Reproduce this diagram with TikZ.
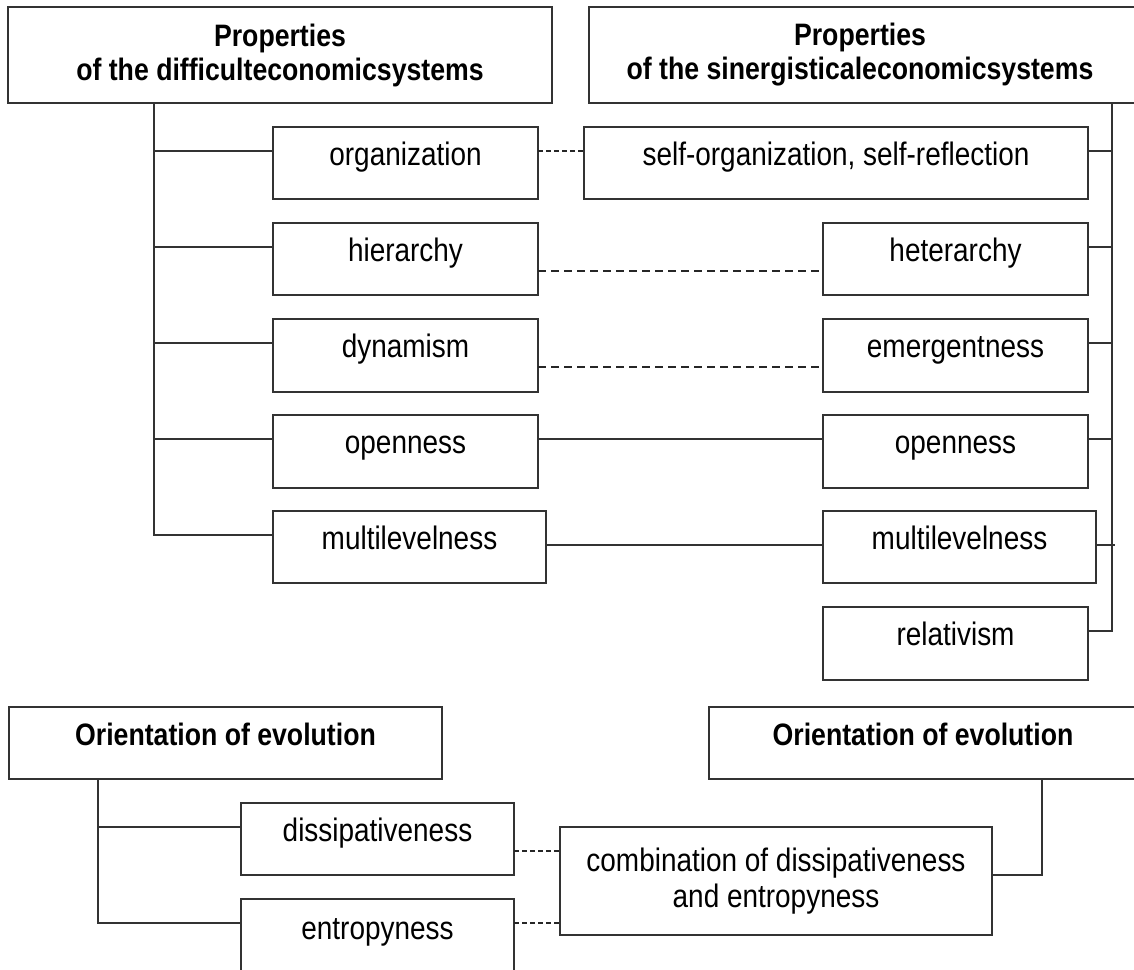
\documentclass[tikz,border=0pt]{standalone}
\usepackage{fontspec}
\setmainfont[FakeStretch=0.86]{Liberation Sans}
\begin{document}
\begin{tikzpicture}[x=1pt,y=-1pt,
  box/.style={draw=black!80,line width=1.3pt,inner sep=0pt,outer sep=0pt,anchor=north west,
    font=\fontsize{32.5}{35}\selectfont,text height=0.72em,text depth=0.3em,align=center},
  hdr/.style={box,font=\fontsize{31}{34}\selectfont\bfseries},
  conn/.style={draw=black!80,line width=1.3pt},
  dthin/.style={draw=black!85,line width=1.1pt,dash pattern=on 5pt off 3pt},
  dthick/.style={draw=black!85,line width=1.7pt,dash pattern=on 8pt off 5pt}]
\clip (0,0) rectangle (1134,969);
\fill[white] (0,0) rectangle (1134,969);
% headers
\node[hdr,minimum width=544pt,minimum height=96pt,text height=,text depth=] (hL) at (8,7) {Properties\\of the difficulteconomicsystems};
\node[hdr,minimum width=560pt,minimum height=96pt,text height=,text depth=] (hR) at (589,7) {\hspace*{-18pt}Properties\\\hspace*{-18pt}of the sinergisticaleconomicsystems};
% left column
\node[box,minimum width=265pt,minimum height=72pt] (org) at (273,127) {organization};
\node[box,minimum width=265pt,minimum height=72pt] (hier) at (273,223) {hierarchy};
\node[box,minimum width=265pt,minimum height=73pt] (dyn) at (273,319) {dynamism};
\node[box,minimum width=265pt,minimum height=73pt] (openL) at (273,415) {openness};
\node[box,minimum width=273pt,minimum height=72pt] (multiL) at (273,511) {multilevelness};
% right column
\node[box,minimum width=504pt,minimum height=72pt] (self) at (584,127) {self-organization, self-reflection};
\node[box,minimum width=265pt,minimum height=72pt] (het) at (823,223) {heterarchy};
\node[box,minimum width=265pt,minimum height=73pt] (emer) at (823,319) {emergentness};
\node[box,minimum width=265pt,minimum height=73pt] (openR) at (823,415) {openness};
\node[box,minimum width=273pt,minimum height=72pt] (multiR) at (823,511) {multilevelness};
\node[box,minimum width=265pt,minimum height=73pt] (rel) at (823,607) {relativism};
% bottom
\node[hdr,minimum width=433pt,minimum height=72pt] (oL) at (9,707) {Orientation of evolution};
\node[hdr,minimum width=440pt,minimum height=72pt] (oR) at (709,707) {\hspace*{-12pt}Orientation of evolution};
\node[box,minimum width=273pt,minimum height=72pt] (diss) at (241,803) {dissipativeness};
\node[box,minimum width=273pt,minimum height=120pt,text height=23pt,text depth=62pt] (ent) at (241,899) {entropyness};
\node[box,minimum width=432pt,minimum height=108pt,text height=,text depth=,font=\fontsize{32.5}{36}\selectfont] (comb) at (560,827) {combination of dissipativeness\\and entropyness};
% trunk coordinates
\coordinate (lt) at (154,0);
\coordinate (rt) at (1112,0);
\coordinate (bt) at (98,0);
\coordinate (bt2) at (1042,0);
% branch points
\foreach \n in {org,hier,dyn,openL,multiL,diss,ent}
  \coordinate (\n-a) at ([yshift=-24pt]\n.north west);
\foreach \n in {self,het,emer,openR,rel}
  \coordinate (\n-a) at ([yshift=-24pt]\n.north east);
\coordinate (multiR-a) at ([yshift=-34pt]multiR.north east);
\coordinate (multiR-b) at ([yshift=-34pt]multiR.north west);
\coordinate (multiL-b) at ([yshift=-34pt]multiL.north east);
\coordinate (org-d) at ([yshift=-24pt]org.north east);
\coordinate (self-d) at ([yshift=-24pt]self.north west);
\coordinate (hier-d) at ([yshift=-48pt]hier.north east);
\coordinate (het-d) at ([yshift=-48pt]het.north west);
\coordinate (dyn-d) at ([yshift=-48pt]dyn.north east);
\coordinate (emer-d) at ([yshift=-48pt]emer.north west);
\coordinate (openL-d) at ([yshift=-24pt]openL.north east);
\coordinate (openR-d) at ([yshift=-24pt]openR.north west);
\coordinate (diss-d) at ([yshift=-48pt]diss.north east);
\coordinate (ent-d) at ([yshift=-24pt]ent.north east);
\coordinate (comb-e) at ([yshift=-48pt]comb.north east);
% left trunk and branches
\draw[conn] (lt |- hL.south) |- (multiL-a);
\foreach \n in {org,hier,dyn,openL}
  \draw[conn] (lt |- \n-a) -- (\n-a);
% right trunk and branches
\draw[conn] (rt |- hR.south) |- (rel-a);
\foreach \n in {self,het,emer,openR}
  \draw[conn] (\n-a) -- (rt |- \n-a);
\draw[conn] (multiR-a) -- ([xshift=3pt]rt |- multiR-a);
% links between columns
\draw[dthin] (org-d) -- (self-d);
\draw[dthick] (hier-d) -- (het-d);
\draw[dthick] (dyn-d) -- (emer-d);
\draw[conn] (openL-d) -- (openR-d);
\draw[conn] (multiL-b) -- (multiR-b);
% bottom connectors
\draw[conn] (bt |- oL.south) |- (ent-a);
\draw[conn] (bt |- diss-a) -- (diss-a);
\draw[dthin] (diss-d) -- (comb.west |- diss-d);
\draw[dthin] (ent-d) -- (comb.west |- ent-d);
\draw[conn] (bt2 |- oR.south) |- (comb-e);
\end{tikzpicture}
\end{document}
